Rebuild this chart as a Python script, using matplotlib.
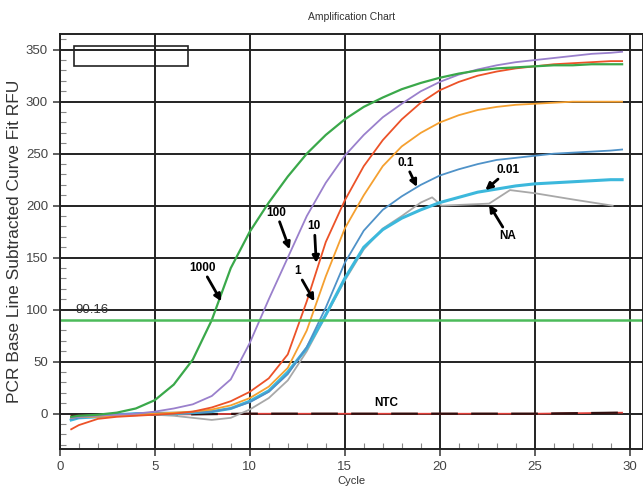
import matplotlib.pyplot as plt
from matplotlib.patches import Rectangle
from matplotlib.ticker import MultipleLocator

plt.rcParams['font.family'] = ['Liberation Sans', 'DejaVu Sans']

cycles = [0.6, 1, 2, 3, 4, 5, 6, 7, 8, 9, 10, 11, 12, 13, 14, 15, 16, 17, 18, 19,
          20, 21, 22, 23, 24, 25, 26, 27, 28, 29, 29.6]

s1000 = [-3, -2, -1, 1, 5, 13, 28, 52, 90, 140, 175, 203, 228, 250, 268, 283, 295, 304,
         312, 318, 323, 327, 330, 332, 333, 334, 335, 335, 336, 336, 336]
s100 = [-4, -3, -2, -1, 0, 2, 5, 9, 17, 33, 68, 110, 150, 190, 222, 248, 268, 285, 298,
        310, 319, 326, 331, 335, 338, 340, 342, 344, 346, 347, 348]
s10 = [-15, -11, -5, -3, -2, -1, 0, 2, 6, 12, 21, 34, 57, 108, 165, 205, 238, 263, 283,
       299, 311, 319, 325, 329, 332, 334, 336, 337, 338, 339, 339]
s1 = [-4, -3, -3, -2, -1, 0, 1, 2, 4, 8, 15, 26, 44, 80, 132, 178, 210, 238, 257, 270,
      280, 287, 292, 295, 297, 298, 299, 300, 300, 300, 300]
s01 = [-5, -4, -2, -1, 0, 1, 1, 1, 2, 5, 11, 21, 38, 64, 102, 145, 176, 196, 209, 220,
       229, 235, 240, 244, 246, 248, 250, 251, 252, 253, 254]
s001 = [-6, -4, -3, -1, 0, 0, 0, 1, 2, 5, 12, 22, 40, 63, 95, 130, 160, 177, 188, 196,
        203, 208, 213, 216, 219, 221, 222, 223, 224, 225, 225]

na_cycles = [0.6, 1, 2, 3, 4, 5, 6, 7, 8, 9, 10, 11, 12, 13, 14, 15, 16, 17, 18, 19,
             19.6, 20.1, 22.6, 23.7, 25, 27, 29.1]
s_na = [-4, -3, -2, -2, -1, -1, -2, -4, -6, -4, 4, 15, 32, 60, 94, 128, 158, 178, 190,
        203, 208, 200, 202, 215, 212, 206, 200]

ntc_cycles = [0.6, 5, 10, 15, 20, 25, 29.6]
ntc = [-2, -1, 0, 0, 0, 0, 1]

threshold = 90.16

fig = plt.figure(figsize=(6.43, 4.94), dpi=100)
ax = fig.add_axes([0.093, 0.091, 0.907, 0.84])

ax.plot(ntc_cycles, ntc, color='#e0403a', lw=1.2)
ax.plot(ntc_cycles, ntc, color='#301010', lw=1.6, dashes=(12, 6))
ax.plot(na_cycles, s_na, color='#a8a8a8', lw=1.3)
ax.plot(cycles, s001, color='#3cb8dc', lw=2.2)
ax.plot(cycles, s01, color='#4f92c8', lw=1.3)
ax.plot(cycles, s1, color='#f5a030', lw=1.3)
ax.plot(cycles, s10, color='#ec5228', lw=1.3)
ax.plot(cycles, s100, color='#9a80cc', lw=1.3)
ax.plot(cycles, s1000, color='#3aa84a', lw=1.6)
ax.axhline(threshold, color='#4cbb5a', lw=1.8)
ax.text(0.8, 100, f'{threshold:.2f}', fontsize=9.5, color='#333333', va='center')

arrow = dict(arrowstyle='-|>', color='black', lw=2, mutation_scale=10, shrinkA=0, shrinkB=0)
labels = [
    ('1000', (8.5, 108), (7.5, 140)),
    ('100', (12.1, 158), (11.4, 193)),
    ('10', (13.5, 145), (13.4, 180)),
    ('1', (13.4, 108), (12.5, 137)),
    ('0.1', (18.8, 218), (18.2, 241)),
    ('0.01', (22.4, 215), (23.6, 234)),
    ('NA', (22.6, 201), (23.6, 171)),
]
for text, xy, xytext in labels:
    ax.annotate(text, xy=xy, xytext=xytext, fontsize=8.5, fontweight='bold',
                ha='center', va='center', arrowprops=arrow)
ax.text(17.2, 10, 'NTC', fontsize=8.5, fontweight='bold', ha='center', va='center')

ax.add_patch(Rectangle((0.024, 0.923), 0.196, 0.048, transform=ax.transAxes,
                       facecolor='none', edgecolor='#222222', lw=1.2))

ax.set_xlim(0, 30.7)
ax.set_ylim(-34, 365)
ax.xaxis.set_major_locator(MultipleLocator(5))
ax.xaxis.set_minor_locator(MultipleLocator(1))
ax.yaxis.set_minor_locator(MultipleLocator(10))
ax.set_yticks([0, 50, 100, 150, 200, 250, 300, 350])
ax.grid(True, which='major', color='#222222', lw=1.4)
ax.set_axisbelow(True)
ax.tick_params(which='major', direction='out', length=5, width=1.2, colors='#444444',
               labelsize=9.5)
ax.tick_params(which='minor', direction='in', length=4, width=0.8, color='#888888')
for sp in ax.spines.values():
    sp.set_color('#222222')
    sp.set_linewidth(1.4)

ax.set_title('Amplification Chart', fontsize=7.5, color='#333333', pad=10)
ax.set_xlabel('Cycle', fontsize=8, color='#333333', labelpad=2)
ax.set_ylabel('PCR Base Line Subtracted Curve Fit RFU', fontsize=12.5, color='#333333',
              labelpad=3)

fig.savefig('out.png', dpi=100)
